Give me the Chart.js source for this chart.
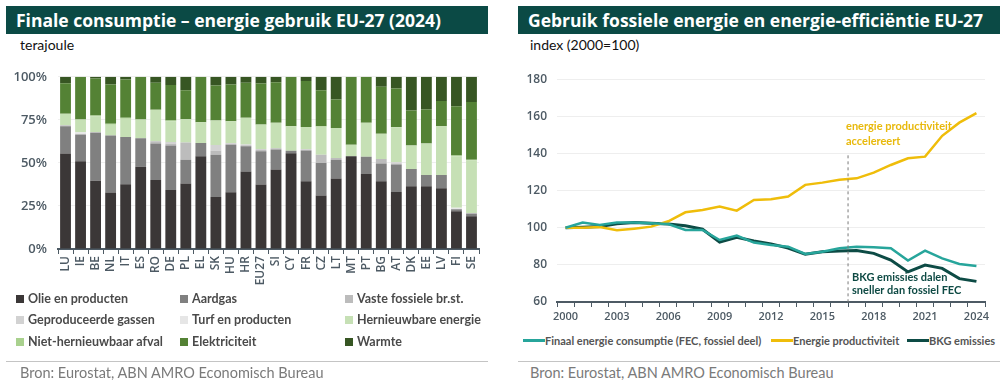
<!DOCTYPE html>
<html>
<head>
<meta charset="utf-8">
<script src="https://cdn.jsdelivr.net/npm/chart.js@4.4.1/dist/chart.umd.min.js"></script>
<style>
body{margin:0;width:1006px;height:381px;background:#fff;font-family:Lato,sans-serif;position:relative;overflow:hidden}
.hdr{position:absolute;top:6px;height:28px;background:#0b4a45;color:#fff;font-family:'Open Sans',sans-serif;font-weight:700;font-size:17.5px;line-height:28px;padding-left:10px;box-sizing:border-box;white-space:nowrap;overflow:hidden}
.unit{position:absolute;top:36px;font-size:14px;color:#111}
.sep{position:absolute;top:361px;height:1px;background:#c4c4c4}
.src{position:absolute;top:364px;font-size:14.5px;color:#7a7a7a}
canvas{position:absolute}
.leg{position:absolute;font-weight:700;color:#4a4a4a}
.leg div{position:absolute;white-space:nowrap}
#leg1{left:16px;top:291px;width:480px;font-size:12.5px}
#leg1 span{display:inline-block;width:8px;height:8px;margin-right:4px;vertical-align:0}
#leg2{left:523px;top:334px;width:480px;font-size:11px;color:#555}
#leg2 span{display:inline-block;width:22px;height:3px;vertical-align:3px}
</style>
</head>
<body>
<div class="hdr" style="left:6px;width:482px">Finale consumptie – energie gebruik EU-27 (2024)</div>
<div class="hdr" style="left:518px;width:482px">Gebruik fossiele energie en energie-efficiëntie EU-27</div>
<div class="unit" style="left:20px">terajoule</div>
<div class="unit" style="left:530px">index (2000=100)</div>
<canvas id="chartOne" width="482" height="242" style="left:6px;top:58px"></canvas>
<canvas id="chartTwo" width="482" height="266" style="left:518px;top:62px"></canvas>
<div id="leg1" class="leg"></div>
<div id="leg2" class="leg"></div>
<div class="sep" style="left:6px;width:482px"></div>
<div class="sep" style="left:518px;width:482px"></div>
<div class="src" style="left:20px">Bron: Eurostat, ABN AMRO Economisch Bureau</div>
<div class="src" style="left:530px">Bron: Eurostat, ABN AMRO Economisch Bureau</div>
<script>
// left chart: share per energy carrier (%)
const countries = ['LU','IE','BE','NL','IT','ES','RO','DE','PL','EL','SK','HU','HR','EU27','SI','CY','FR','CZ','LT','MT','PT','BG','AT','DK','EE','LV','FI','SE']
const olie = [55.4,51.0,39.7,32.8,37.6,47.7,40.1,34.2,38.0,53.9,30.2,33.0,45.0,37.4,46.1,55.6,39.3,31.0,40.9,53.9,43.6,39.3,33.1,36.4,36.4,35.3,21.9,19.0]
const aardgas = [15.9,15.5,27.7,33.1,27.5,16.6,21.1,25.9,13.9,7.7,24.5,27.5,14.7,19.4,11.7,1.5,17.9,19.0,11.0,0,9.9,10.3,15.9,10.1,6.6,7.7,1.2,1.5]
const vasteFossiel = [0.6,0,0.6,0,0,0,1.4,1.0,9.9,0,2.4,0.6,0.5,0.7,0.7,0,0.4,4.7,1.0,0,0,2.7,0.7,0,0,0,0,0.4]
const geproduceerdeGassen = [0,0,0,0,0,0,0,1.0,0,0,3.3,0.5,0.5,0.6,0,0,0.5,0,0,0,0,0,0.7,0,0,0,0,0]
const turf = [0,1.3,0,0,0,0,0,0,0,0,0,0,0,0,0,0,0,0,0,0,0,0,0,0,0,0,0.8,0]
const hernieuwbaar = [6.6,7.4,9.0,6.3,10.6,10.9,18.2,12.0,13.6,12.0,14.2,12.6,15.5,14.0,14.8,14.2,12.8,16.3,17.3,6.6,19.8,14.6,20.2,13.6,18.2,28.3,30.0,30.5]
const afval = [0,0,0.5,0.5,0.5,0,0,0.5,0,0,0,0,0,0.2,0,0,0,0.3,0,0,0,0,0.3,0,0,0,0.4,0.5]
const elektriciteit = [17.8,24.8,21.5,22.8,22.2,24.8,15.7,20.7,16.8,26.4,20.4,21.3,20.3,23.8,23.6,28.7,26.6,20.9,16.6,39.5,26.7,27.3,22.3,20.3,19.8,14.6,28.6,33.4]
const warmte = [3.7,0,1.0,4.5,1.6,0,3.5,4.7,7.8,0,5.0,4.5,3.5,3.9,3.1,0,2.5,7.8,13.2,0,0,5.8,6.8,19.6,19.0,14.1,17.1,14.7]

// right chart: index 2000=100
const jaren = ['2000','2001','2002','2003','2004','2005','2006','2007','2008','2009','2010','2011','2012','2013','2014','2015','2016','2017','2018','2019','2020','2021','2022','2023','2024']
const fecFossiel = [100,102.8,101.5,102.8,102.8,102.4,102.0,98.8,98.8,93.4,95.8,92.0,90.7,89.8,85.9,87.1,88.9,89.8,89.5,88.9,82.3,87.7,83.5,80.5,79.4]
const productiviteit = [100,100,100.4,98.6,99.5,100.6,103.5,108.3,109.6,111.4,109.2,115.0,115.3,116.8,123.1,124.3,125.8,126.6,129.7,133.8,137.4,138.3,149.5,156.6,161.7]
const bkgEmissies = [100,100.2,100.6,102.2,102.8,102.4,102.0,101.1,99.2,92.2,94.9,92.9,91.3,89.1,85.7,87.1,87.5,87.7,86.2,82.6,76.2,79.9,78.1,72.6,71.1]
const yTicksRight = [60,80,100,120,140,160,180]

const tickCol = '#4d5a64'
const tickFont = {family:'Open Sans', size:12, weight:'600'}

const series1 = [
  ['Olie en producten', olie, '#3b3737'],
  ['Aardgas', aardgas, '#808080'],
  ['Vaste fossiele br.st.', vasteFossiel, '#bcbcbc'],
  ['Geproduceerde gassen', geproduceerdeGassen, '#d2d2d2'],
  ['Turf en producten', turf, '#e6e6e6'],
  ['Hernieuwbare energie', hernieuwbaar, '#c6e0b5'],
  ['Niet-hernieuwbaar afval', afval, '#a9d18e'],
  ['Elektriciteit', elektriciteit, '#548235'],
  ['Warmte', warmte, '#375623']
]

let projectTech = new Chart(document.getElementById('chartOne').getContext('2d'),{
  type:'bar',
  data:{
    labels:countries,
    datasets:series1.map(s=>({label:s[0], data:s[1], backgroundColor:s[2], barPercentage:0.72, categoryPercentage:1}))
  },
  options:{
    responsive:false, animation:false,
    layout:{padding:{top:11,right:6}},
    plugins:{legend:{display:false}, tooltip:{enabled:false}},
    scales:{
      x:{stacked:true,
        grid:{offset:true, drawOnChartArea:false, color:tickCol, tickLength:5},
        border:{color:tickCol, width:2},
        ticks:{minRotation:90, maxRotation:90, autoSkip:false, color:tickCol, font:tickFont, padding:2},
        afterFit:s=>{s.height = 51}
      },
      y:{stacked:true, min:0, max:100,
        grid:{color:'#efefef', drawTicks:false},
        border:{display:false},
        ticks:{stepSize:25, color:tickCol, font:{family:'Open Sans', size:13, weight:'600'}, padding:11, callback:v=>v+'%'},
        afterFit:s=>{s.width = 52}
      }
    }
  }
})

// legend left chart, 3 columns
const legPos = [[0,0],[164,0],[329,0],[0,21],[164,21],[329,21],[0,43],[164,43],[329,43]]
const leg1 = document.getElementById('leg1')
series1.forEach((s,i)=>{
  const d = document.createElement('div')
  d.style.left = legPos[i][0]+'px'
  d.style.top = legPos[i][1]+'px'
  d.innerHTML = '<span style="background:'+s[2]+'"></span>'+s[0]
  leg1.appendChild(d)
})

const notes = {
  id:'notes',
  afterDatasetsDraw(chart){
    const c = chart.ctx, xs = chart.scales.x, ys = chart.scales.y
    const x = (xs.getPixelForValue(16)+xs.getPixelForValue(17))/2
    c.save()
    c.strokeStyle = '#7a7a7a'; c.lineWidth = 1; c.setLineDash([3,3])
    c.beginPath(); c.moveTo(x, ys.getPixelForValue(139)); c.lineTo(x, ys.bottom); c.stroke()
    c.setLineDash([])
    c.font = 'bold 11px Lato'; c.textBaseline = 'middle'
    c.fillStyle = '#e8b90c'
    c.fillText('energie productiviteit', x-2, ys.getPixelForValue(154.7))
    c.fillText('accelereert', x-2, ys.getPixelForValue(146.6))
    c.fillStyle = '#0e4a44'
    c.fillText('BKG emissies dalen', x+4, ys.getPixelForValue(73))
    c.fillText('sneller dan fossiel FEC', x+4, ys.getPixelForValue(66))
    c.restore()
  }
}

let projectRes = new Chart(document.getElementById('chartTwo').getContext('2d'),{
  type:'line',
  data:{
    labels:jaren,
    datasets:[
      {label:'Finaal energie consumptie (FEC, fossiel deel)', data:fecFossiel, borderColor:'#27a59b', borderWidth:2.5, pointRadius:0},
      {label:'Energie productiviteit', data:productiviteit, borderColor:'#efbd0a', borderWidth:2.5, pointRadius:0},
      {label:'BKG emissies', data:bkgEmissies, borderColor:'#0d4b45', borderWidth:3, pointRadius:0}
    ]
  },
  options:{
    responsive:false, animation:false,
    layout:{padding:{top:17,right:15}},
    plugins:{tooltip:{enabled:false}, legend:{display:false}},
    scales:{
      x:{offset:true,
        grid:{offset:true, drawOnChartArea:false, color:tickCol, tickLength:5},
        border:{color:tickCol, width:2},
        ticks:{autoSkip:false, maxRotation:0, color:tickCol, font:{family:'Open Sans', size:11, weight:'600'}, padding:3,
          callback:function(v,i){return i%3===0 ? jaren[i] : ''}},
        afterFit:s=>{s.height = 26}
      },
      y:{min:60, max:180,
        afterBuildTicks:s=>{s.ticks = yTicksRight.map(v=>({value:v}))},
        grid:{color:'#eeeeee', drawTicks:false},
        border:{display:false},
        ticks:{color:tickCol, font:tickFont, padding:10},
        afterFit:s=>{s.width = 39}
      }
    }
  },
  plugins:[notes]
})

// legend right chart, line samples
const leg2X = [0, 248, 384]
const leg2 = document.getElementById('leg2')
projectRes.data.datasets.forEach((ds,i)=>{
  const d = document.createElement('div')
  d.style.left = leg2X[i]+'px'
  d.style.top = '0px'
  d.innerHTML = '<span style="background:'+ds.borderColor+'"></span>'+ds.label
  leg2.appendChild(d)
})
</script>
</body>
</html>
